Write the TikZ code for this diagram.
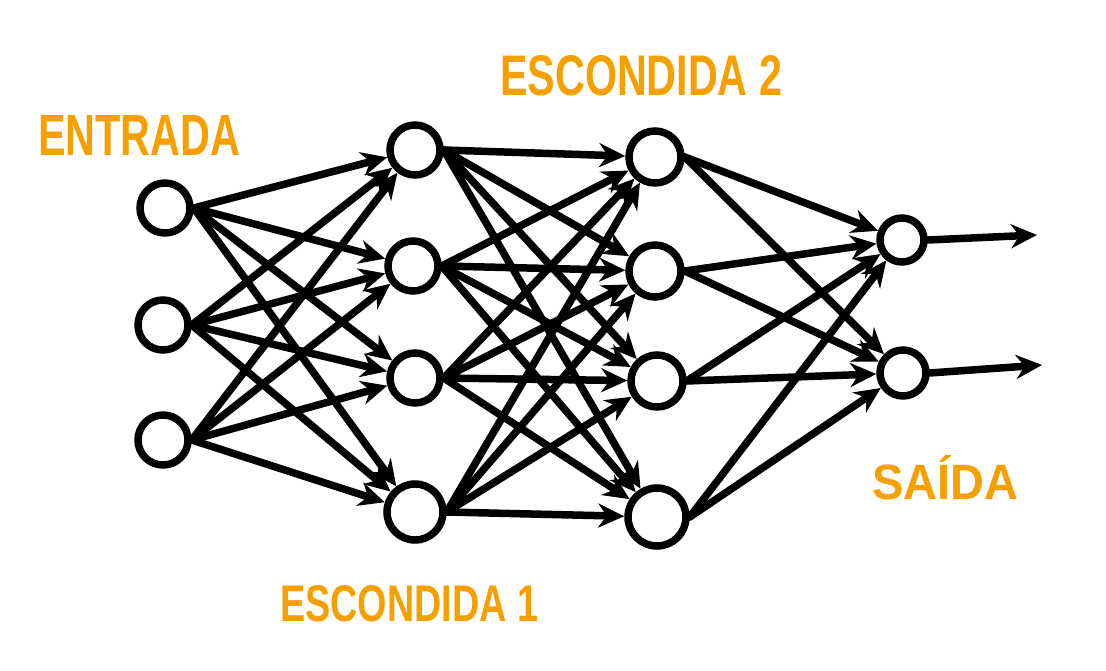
\documentclass[tikz,border=0pt]{standalone}
\usepackage{fontspec}
\setmainfont{Liberation Sans}
\usepackage{graphicx}
\usetikzlibrary{arrows.meta}
\definecolor{lab}{RGB}{246,160,0}
\begin{document}
\begin{tikzpicture}[x=1pt,y=-1pt,
  neuron/.style={circle,draw=black,line width=7.5pt,minimum size=#1,inner sep=0pt},
  conn/.style={line width=7.5pt,line cap=round,-{Stealth[length=26pt,width=24pt]}},
  lbl/.style={text=lab,inner sep=0pt}]
\useasboundingbox (0,0) rectangle (1106,671);
% input
\node[neuron=50pt] (i1) at (165,208) {};
\node[neuron=50pt] (i2) at (163,325) {};
\node[neuron=50pt] (i3) at (163,440) {};
% hidden 1
\node[neuron=50pt] (a1) at (415,150) {};
\node[neuron=50pt] (a2) at (413,266) {};
\node[neuron=50pt] (a3) at (415,378) {};
\node[neuron=56pt] (a4) at (415,512) {};
% hidden 2
\node[neuron=52pt] (b1) at (655,157) {};
\node[neuron=52pt] (b2) at (655,271) {};
\node[neuron=52pt] (b3) at (657,381) {};
\node[neuron=58pt] (b4) at (657,517) {};
% output
\node[neuron=44pt] (o1) at (902,240) {};
\node[neuron=46pt] (o2) at (903,373) {};
\coordinate (e1) at (1037,235);
\coordinate (e2) at (1042,365);
% connections
\foreach \s in {i1,i2,i3}{
  \foreach \t in {a1,a2,a3,a4}{
    \draw[conn] (\s.east) -- (\t);
  }
}
\foreach \s in {a1,a2,a3,a4}{
  \foreach \t in {b1,b2,b3,b4}{
    \draw[conn] (\s.east) -- (\t);
  }
}
\foreach \s in {b1,b2,b3,b4}{
  \foreach \t in {o1,o2}{
    \draw[conn] (\s.east) -- (\t);
  }
}
\draw[conn] (o1.east) -- (e1);
\draw[conn] (o2.east) -- (e2);
% labels
\node[lbl,anchor=north west] (l1) at (38,115) {\resizebox{202pt}{40pt}{\textbf{ENTRADA}}};
\node[lbl,anchor=north west] (l2) at (500,55) {\resizebox{282pt}{40pt}{\textbf{ESCONDIDA 2}}};
\node[lbl,anchor=north west] (l3) at (872,455) {\resizebox{146pt}{44pt}{\textbf{SAÍDA}}};
\node[lbl,anchor=north west] (l4) at (280,585) {\resizebox{258pt}{36pt}{\textbf{ESCONDIDA 1}}};
\end{tikzpicture}
\end{document}
